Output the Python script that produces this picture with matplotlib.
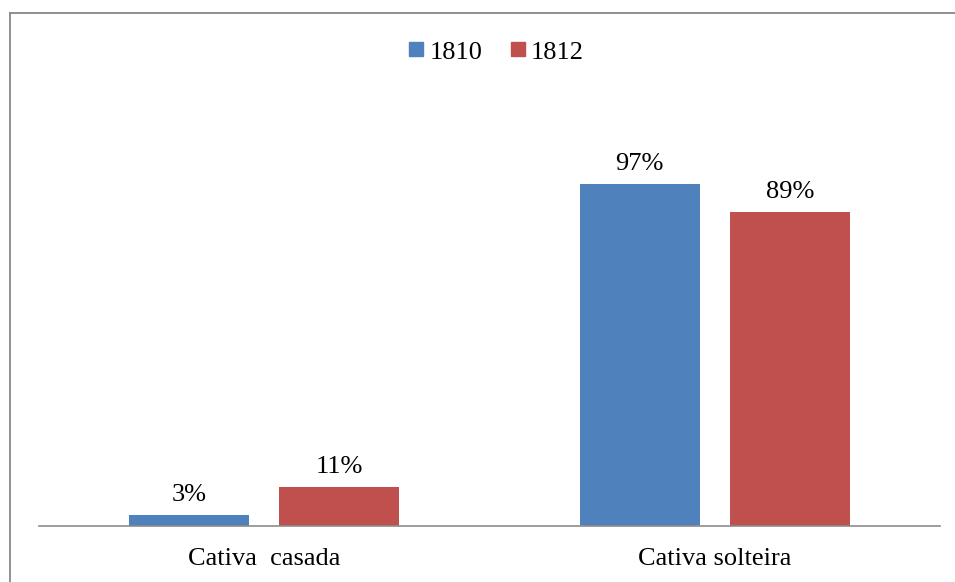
import matplotlib
matplotlib.use("Agg")
import matplotlib.pyplot as plt
from matplotlib.lines import Line2D
import numpy as np

categories = ["Cativa  casada", "Cativa solteira"]
series_names = ["1810", "1812"]
values_1810 = [0.03, 0.97]
values_1812 = [0.11, 0.89]
colors = ["#4F81BD", "#C0504D"]

plt.rcParams['font.family'] = ['Liberation Serif', 'DejaVu Serif']

fig = plt.figure(figsize=(9.55, 5.82), dpi=100)
W, H = 955, 582
ax = fig.add_axes([39 / W, 1 - 526 / H, (940 - 39) / W, (526 - 103) / H])

x = np.arange(len(categories))
bw = 120 / 450.5
gap = 30 / 450.5
off = (bw + gap) / 2
for i, (vals, c, name) in enumerate(zip([values_1810, values_1812], colors, series_names)):
    pos = x + (-off if i == 0 else off)
    ax.bar(pos, vals, width=bw, color=c, label=name)
    for p, v in zip(pos, vals):
        ax.text(p, v + 0.026, f"{round(v*100)}%", ha="center", va="bottom", fontsize=19)

ax.set_xlim(-0.5, 1.5)
ax.set_ylim(0, 1.2)
ax.set_yticks([])
ax.set_xticks(x)
ax.set_xticklabels(categories, fontsize=19)
ax.tick_params(axis="x", length=0, pad=16)
for s in ["left", "right", "top"]:
    ax.spines[s].set_visible(False)
ax.spines["bottom"].set_color("#8c8c8c")
ax.spines["bottom"].set_linewidth(1.2)

handles = [Line2D([], [], marker="s", linestyle="", markersize=10, color=c) for c in colors]
fig.legend(handles, series_names, loc="center", bbox_to_anchor=(494 / W, 1 - 52 / H),
           ncol=2, frameon=False, fontsize=19, handletextpad=0.05, columnspacing=0.9,
           handlelength=0.9)

# outer frame (left and top visible)
fig.add_artist(Line2D([9.5 / W, 9.5 / W], [0, 1 - 13 / H], transform=fig.transFigure,
                      color="#888888", linewidth=1.3))
fig.add_artist(Line2D([9.5 / W, 1], [1 - 13 / H, 1 - 13 / H], transform=fig.transFigure,
                      color="#888888", linewidth=1.3))

fig.savefig("out.png", dpi=100, facecolor="white")
